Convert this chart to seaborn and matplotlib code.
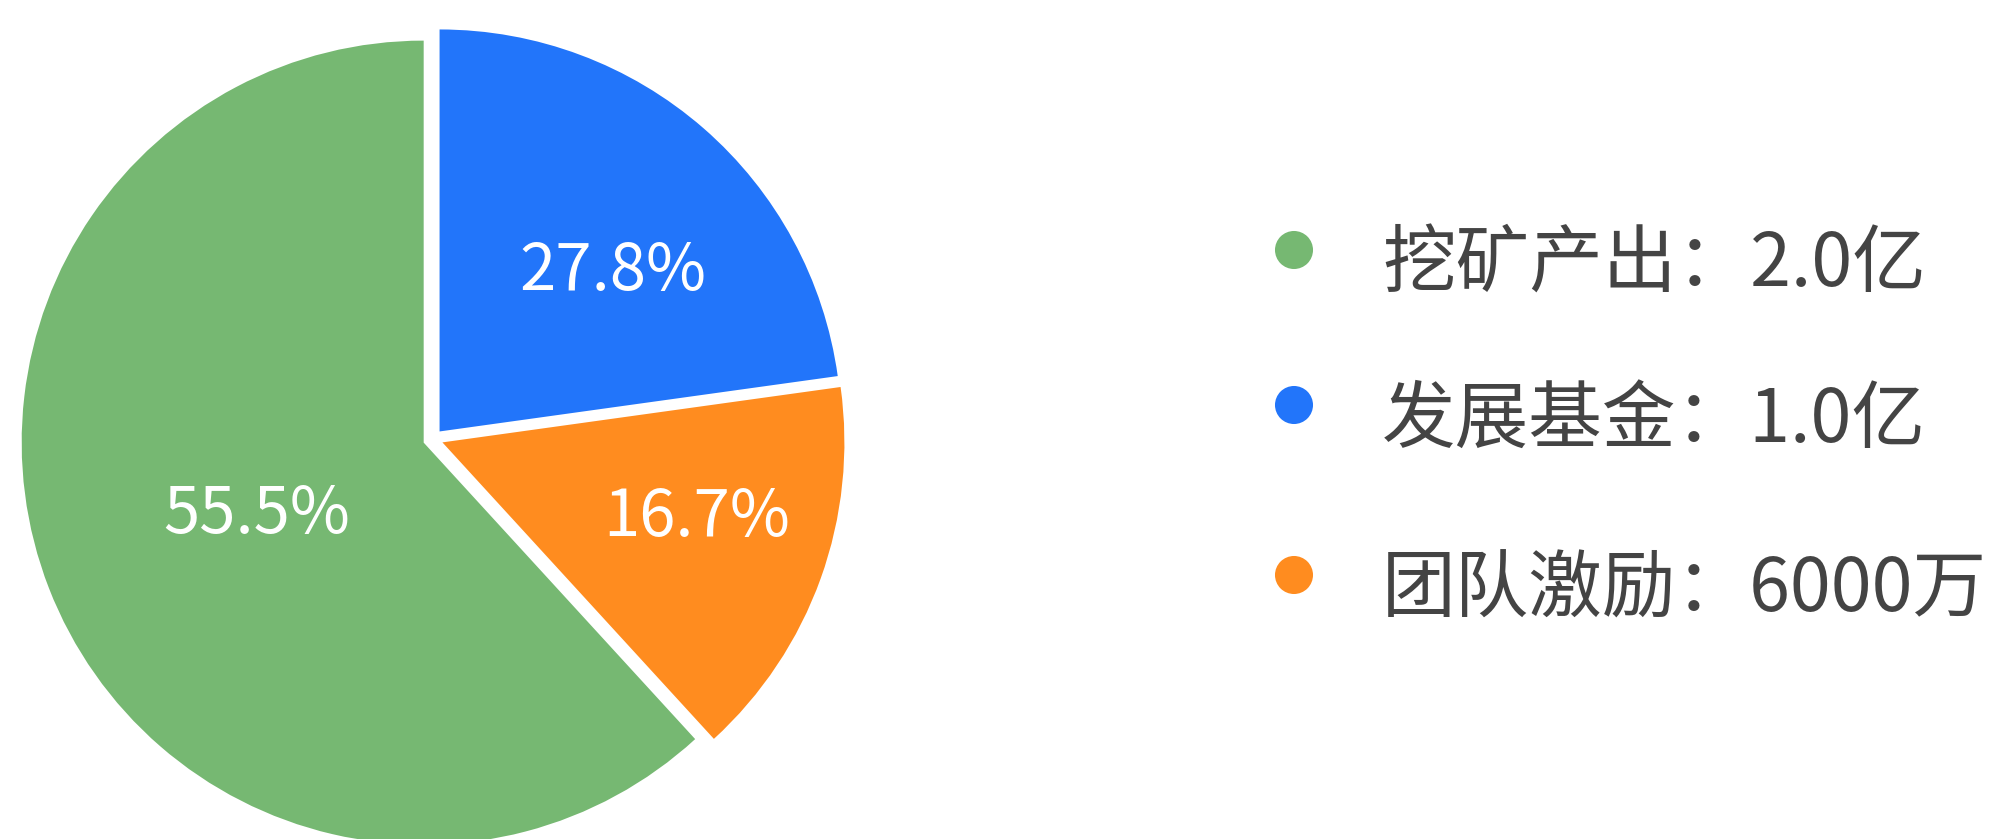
# Pie of token allocation with a custom dot legend on the right

import matplotlib
matplotlib.use("Agg")
import matplotlib.pyplot as plt
import seaborn as sns

# -------------------------------
# Data (legend order)
# -------------------------------
categories = ["挖矿产出", "发展基金", "团队激励"]
amounts = ["2.0亿", "1.0亿", "6000万"]
pct_labels = ["55.5%", "27.8%", "16.7%"]
# share of the circle each slice takes in the drawing
slice_share = [61.8, 22.8, 15.4]
colors = sns.color_palette(["#76B872", "#2275FA", "#FF8C1F"])

# draw order: counter-clockwise from 12 o'clock -> green, orange, blue
draw_order = [0, 2, 1]

# -------------------------------
# Layout (pixel units, y measured from the top)
# -------------------------------
W, H = 1989, 839
pie_center = (433, 439)
pie_radius = 402
gap = 10  # slice offset from the centre, px
label_xy = [(257, 515), (613, 272), (697, 518)]
legend_dot_x = 1294
legend_text_x = 1382
legend_y = [250, 405, 575]

sns.set_theme(style="white")
plt.rcParams["font.family"] = ["Noto Sans CJK SC", "DejaVu Sans"]

fig = plt.figure(figsize=(W / 100, H / 100), dpi=100)
ax = fig.add_axes([0, 0, 1, 1])

wedges, _ = ax.pie(
    [slice_share[i] for i in draw_order],
    colors=[colors[i] for i in draw_order],
    explode=[gap] * 3,
    startangle=90,
    counterclock=True,
    center=(pie_center[0], H - pie_center[1]),
    radius=pie_radius,
    frame=False,
    wedgeprops=dict(linewidth=0),
)

ax.set_xlim(0, W)
ax.set_ylim(0, H)
ax.set_aspect("auto")
ax.axis("off")

# percentage labels inside the slices
for (x, y), txt in zip(label_xy, pct_labels):
    ax.text(x, H - y, txt, color="white", fontsize=47,
            ha="center", va="center")

# legend: coloured dot + "name：amount"
for i, y in enumerate(legend_y):
    ax.scatter([legend_dot_x], [H - y], s=750, color=colors[i],
               edgecolors="none", zorder=3)
    ax.text(legend_text_x, H - y - 16, f"{categories[i]}：{amounts[i]}",
            color="#444444", fontsize=53, ha="left", va="center")

fig.savefig("out.png", dpi=100)
